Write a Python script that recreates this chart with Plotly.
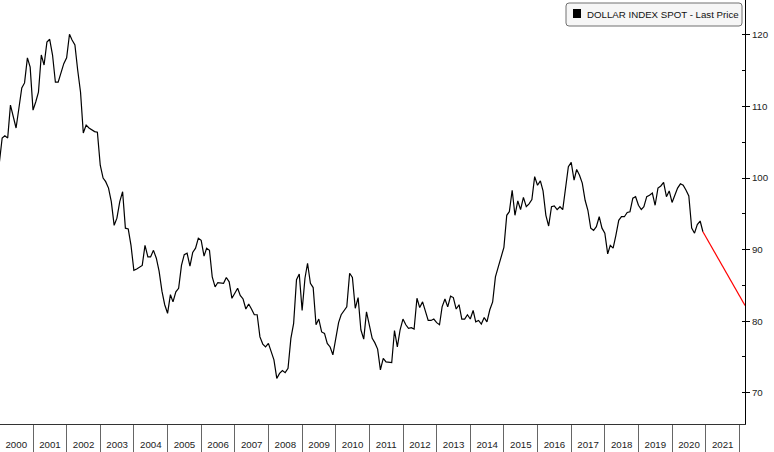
import pandas as pd
import plotly.graph_objects as go

# ---------------- data (monthly closes) ----------------
v1999 = [102.1]
v2000 = [105.6, 105.9, 105.6, 110.2, 108.6, 107.0, 109.8, 112.6, 113.3, 116.8, 115.5, 109.5]
v2001 = [110.7, 112.0, 117.2, 115.8, 119.0, 119.4, 117.2, 113.4, 113.4, 114.8, 116.0, 116.8]
v2002 = [120.1, 119.3, 118.6, 115.1, 112.0, 106.3, 107.4, 107.0, 106.7, 106.5, 106.4, 101.8]
v2003 = [100.0, 99.5, 98.6, 96.7, 93.4, 94.4, 96.7, 98.1, 93.0, 92.9, 90.6, 87.1]
v2004 = [87.3, 87.6, 87.8, 90.6, 89.0, 89.0, 89.9, 88.8, 87.0, 84.2, 82.3, 81.1]
v2005 = [83.7, 82.7, 84.1, 84.6, 87.8, 89.3, 89.5, 87.7, 89.6, 90.2, 91.6, 91.3]
v2006 = [89.1, 90.2, 89.9, 86.2, 84.8, 85.4, 85.3, 85.3, 86.1, 85.5, 83.2, 83.9]
v2007 = [84.6, 83.6, 83.1, 81.7, 82.4, 81.7, 80.9, 80.9, 77.8, 76.8, 76.4, 76.9]
v2008 = [75.6, 74.6, 72.0, 72.7, 73.1, 72.8, 73.4, 77.6, 79.7, 85.8, 86.6, 81.5]
v2009 = [86.0, 88.1, 85.3, 84.7, 79.5, 80.3, 78.5, 78.3, 76.9, 76.4, 75.3, 77.8]
v2010 = [79.8, 80.9, 81.4, 82.0, 86.7, 86.1, 81.8, 83.3, 78.8, 77.5, 81.3, 79.2]
v2011 = [77.6, 77.0, 76.1, 73.2, 74.8, 74.3, 74.2, 74.2, 78.7, 76.4, 78.8, 80.3]
v2012 = [79.5, 79.0, 79.1, 78.9, 83.2, 81.9, 82.7, 81.3, 80.1, 80.1, 80.3, 79.8]
v2013 = [79.5, 82.0, 83.1, 82.0, 83.5, 83.3, 81.7, 82.3, 80.3, 80.3, 80.9, 80.3]
v2014 = [81.5, 79.9, 80.1, 79.6, 80.5, 79.9, 81.6, 82.7, 86.2, 87.6, 88.8, 90.3]
v2015 = [94.8, 95.3, 98.3, 94.8, 96.8, 95.6, 97.3, 96.0, 96.4, 97.0, 100.2, 99.0]
v2016 = [99.6, 98.2, 94.8, 93.3, 96.0, 96.1, 95.6, 96.0, 95.6, 98.3, 101.6, 102.2]
v2017 = [99.7, 101.2, 100.4, 99.3, 96.9, 95.5, 93.0, 92.7, 93.2, 94.6, 93.0, 92.3]
v2018 = [89.4, 90.6, 90.2, 92.0, 94.1, 94.6, 94.6, 95.2, 95.3, 97.2, 97.4, 96.2]
v2019 = [95.6, 96.0, 97.4, 97.6, 97.9, 96.2, 98.6, 98.9, 99.4, 97.4, 98.2, 96.6]
v2020 = [97.6, 98.6, 99.2, 99.0, 98.3, 97.5, 93.0, 92.3, 93.5, 94.0, 92.5]

trend_dates = ["2020-11-30", "2022-03-02"]
trend_values = [92.5, 82.2]

y_ticks = [70, 80, 90, 100, 110, 120]
series_name = "DOLLAR INDEX SPOT - Last Price"

# ---------------- build ----------------
values = (v1999 + v2000 + v2001 + v2002 + v2003 + v2004 + v2005 + v2006 + v2007
          + v2008 + v2009 + v2010 + v2011 + v2012 + v2013 + v2014 + v2015
          + v2016 + v2017 + v2018 + v2019 + v2020)
dates = pd.date_range("2000-01-01", periods=len(values), freq="MS") - pd.Timedelta(days=1)

X_RANGE = ["2000-01-07 12:00", "2022-03-02"]
Y_RANGE = [65.63, 124.89]
PW, PH = 745, 424  # plot area in pixels
FONT = "Liberation Sans, Arial, sans-serif"


def px(x):
    return x / PW


def py(y):
    return 1 - y / PH


fig = go.Figure()
fig.add_trace(go.Scatter(x=dates, y=values, mode="lines",
                         line=dict(color="#000000", width=1.2),
                         name=series_name, showlegend=False, hoverinfo="x+y"))
fig.add_trace(go.Scatter(x=trend_dates, y=trend_values, mode="lines",
                         line=dict(color="#ff0000", width=1.2),
                         xaxis="x2", showlegend=False, hoverinfo="skip"))

# legend box (drawn)
x0, x1, y0, y1, r = 566, 742, 3, 26, 3
path = (f"M {px(x0 + r)},{py(y0)} L {px(x1 - r)},{py(y0)} "
        f"Q {px(x1)},{py(y0)} {px(x1)},{py(y0 + r)} L {px(x1)},{py(y1 - r)} "
        f"Q {px(x1)},{py(y1)} {px(x1 - r)},{py(y1)} L {px(x0 + r)},{py(y1)} "
        f"Q {px(x0)},{py(y1)} {px(x0)},{py(y1 - r)} L {px(x0)},{py(y0 + r)} "
        f"Q {px(x0)},{py(y0)} {px(x0 + r)},{py(y0)} Z")
shapes = [
    dict(type="path", xref="paper", yref="paper", path=path,
         fillcolor="#f6f6f6", line=dict(color="#707070", width=1), layer="above"),
    dict(type="rect", xref="paper", yref="paper",
         x0=px(573), x1=px(581), y0=py(18), y1=py(9),
         fillcolor="#000000", line=dict(width=0), layer="above"),
]

annotations = [
    dict(xref="paper", yref="paper", x=px(585), y=py(14), xanchor="left", yanchor="middle",
         text=series_name, showarrow=False,
         font=dict(family=FONT, size=9.7, color="#111111")),
]

fig.update_layout(
    width=774, height=452, autosize=False,
    margin=dict(l=0, r=29, t=0, b=28, pad=0),
    paper_bgcolor="white", plot_bgcolor="white",
    shapes=shapes, annotations=annotations,
    showlegend=False,
    xaxis=dict(type="date", range=X_RANGE, showgrid=False, zeroline=False,
               showline=True, linecolor="#333333", linewidth=1,
               ticks="outside", ticklen=28, tickwidth=1, tickcolor="#666666",
               tick0="2000-01-01", dtick="M12", showticklabels=False,
               fixedrange=True),
    xaxis2=dict(type="date", range=X_RANGE, overlaying="x", anchor="y", side="bottom",
                showgrid=False, zeroline=False, showline=False,
                ticks="outside", ticklen=11, tickcolor="rgba(0,0,0,0)",
                tick0="2000-01-01", dtick="M12", tickformat="%Y", ticklabelmode="period",
                tickfont=dict(family=FONT, size=9.7, color="#222222"),
                fixedrange=True),
    yaxis=dict(side="right", range=Y_RANGE, tickvals=y_ticks, showgrid=False,
               zeroline=False, showline=True, linecolor="#000000", linewidth=1,
               ticks="outside", ticklen=4, tickcolor="#000000",
               tickfont=dict(family=FONT, size=9.7, color="#222222"),
               minor=dict(dtick=5, tick0=0, ticks="inside", ticklen=3, tickcolor="#000000"),
               fixedrange=True),
)

fig.write_html("out.html")
